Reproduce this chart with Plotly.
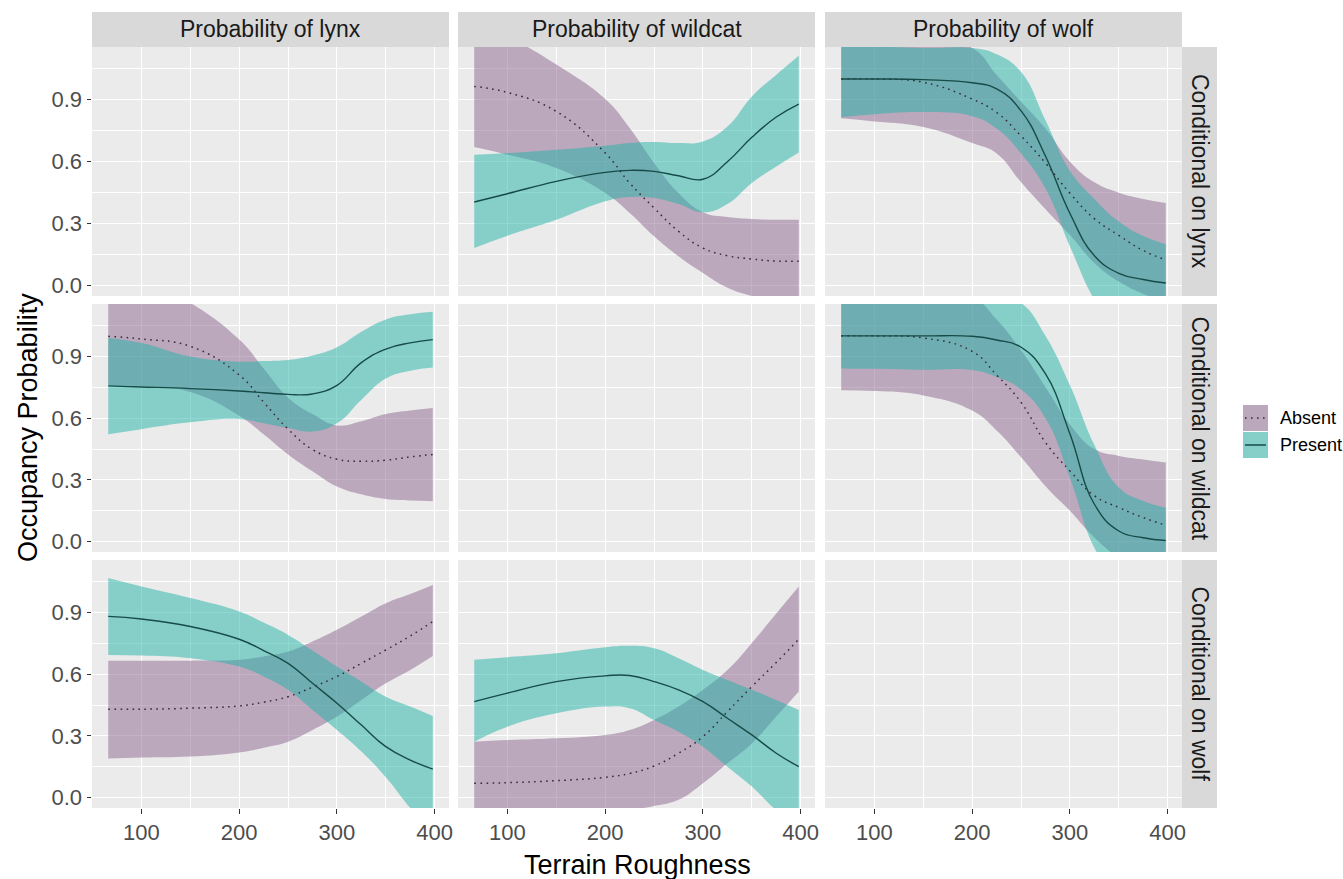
import plotly.graph_objects as go

W, H = 1343, 879
FONT = "Liberation Sans, Arial, Helvetica, sans-serif"

# ---------------- data ----------------
col_labels = ["Probability of lynx", "Probability of wildcat", "Probability of wolf"]
row_labels = ["Conditional on lynx", "Conditional on wildcat", "Conditional on wolf"]
x_ticks = [100, 200, 300, 400]
x_minor = [50, 150, 250, 350]
y_ticks = [0.0, 0.3, 0.6, 0.9]
y_minor = [0.15, 0.45, 0.75, 1.05]
legend_labels = ["Absent", "Present"]

roughness = [66, 100, 150, 200, 225, 250, 275, 300, 325, 350, 375, 398]

# wildcat, conditional on lynx
wildcat_lynx_absent = [0.964, 0.935, 0.843, 0.642, 0.497, 0.376, 0.263, 0.182, 0.145, 0.129, 0.119, 0.118]
wildcat_lynx_absent_lo = [0.671, 0.634, 0.569, 0.448, 0.352, 0.239, 0.142, 0.061, -0.01, -0.05, -0.08, -0.10]
wildcat_lynx_absent_hi = [1.30, 1.21, 1.07, 0.903, 0.763, 0.594, 0.448, 0.355, 0.332, 0.323, 0.319, 0.319]
wildcat_lynx_present = [0.405, 0.445, 0.505, 0.548, 0.558, 0.553, 0.532, 0.515, 0.600, 0.718, 0.816, 0.879]
wildcat_lynx_present_lo = [0.182, 0.242, 0.319, 0.408, 0.429, 0.424, 0.395, 0.355, 0.395, 0.497, 0.577, 0.645]
wildcat_lynx_present_hi = [0.634, 0.642, 0.658, 0.677, 0.690, 0.695, 0.690, 0.698, 0.770, 0.916, 1.021, 1.113]

# wolf, conditional on lynx
wolf_lynx_absent = [1.0, 1.0, 0.984, 0.903, 0.838, 0.724, 0.593, 0.447, 0.324, 0.243, 0.170, 0.125]
wolf_lynx_absent_lo = [0.81, 0.795, 0.768, 0.69, 0.64, 0.50, 0.37, 0.245, 0.11, 0.02, -0.04, -0.08]
wolf_lynx_absent_hi = [1.25, 1.23, 1.20, 1.15, 1.02, 0.89, 0.76, 0.60, 0.50, 0.45, 0.42, 0.40]
wolf_lynx_present = [1.0, 1.0, 0.997, 0.982, 0.952, 0.846, 0.626, 0.349, 0.145, 0.060, 0.030, 0.013]
wolf_lynx_present_lo = [0.815, 0.83, 0.84, 0.82, 0.76, 0.64, 0.47, 0.19, -0.07, -0.25, -0.35, -0.40]
wolf_lynx_present_hi = [1.17, 1.16, 1.15, 1.15, 1.12, 1.034, 0.80, 0.555, 0.42, 0.31, 0.24, 0.20]

# lynx, conditional on wildcat
lynx_wildcat_absent = [0.998, 0.985, 0.949, 0.81, 0.678, 0.547, 0.448, 0.401, 0.391, 0.396, 0.412, 0.424]
lynx_wildcat_absent_lo = [0.76, 0.755, 0.727, 0.612, 0.522, 0.424, 0.342, 0.268, 0.23, 0.207, 0.20, 0.197]
lynx_wildcat_absent_hi = [1.32, 1.27, 1.16, 0.982, 0.842, 0.70, 0.62, 0.565, 0.585, 0.62, 0.637, 0.65]
lynx_wildcat_present = [0.757, 0.752, 0.744, 0.732, 0.724, 0.716, 0.718, 0.760, 0.870, 0.936, 0.966, 0.982]
lynx_wildcat_present_lo = [0.522, 0.547, 0.58, 0.596, 0.575, 0.552, 0.535, 0.575, 0.690, 0.793, 0.831, 0.846]
lynx_wildcat_present_hi = [0.99, 0.966, 0.90, 0.875, 0.878, 0.883, 0.905, 0.945, 1.02, 1.08, 1.105, 1.117]

# wolf, conditional on wildcat
wolf_wildcat_absent = [1.0, 1.0, 0.99, 0.925, 0.81, 0.677, 0.482, 0.344, 0.223, 0.166, 0.117, 0.08]
wolf_wildcat_absent_lo = [0.736, 0.732, 0.711, 0.637, 0.54, 0.41, 0.27, 0.15, 0.02, -0.08, -0.15, -0.2]
wolf_wildcat_absent_hi = [1.25, 1.25, 1.24, 1.19, 1.08, 0.93, 0.75, 0.57, 0.45, 0.417, 0.40, 0.385]
wolf_wildcat_present = [1.0, 1.0, 1.0, 0.998, 0.98, 0.945, 0.815, 0.523, 0.182, 0.052, 0.019, 0.006]
wolf_wildcat_present_lo = [0.842, 0.84, 0.835, 0.834, 0.80, 0.74, 0.60, 0.31, -0.03, -0.2, -0.3, -0.35]
wolf_wildcat_present_hi = [1.3, 1.3, 1.3, 1.25, 1.2, 1.16, 1.0, 0.76, 0.47, 0.263, 0.198, 0.166]

# lynx, conditional on wolf
lynx_wolf_absent = [0.43, 0.43, 0.435, 0.446, 0.464, 0.491, 0.537, 0.589, 0.653, 0.718, 0.786, 0.856]
lynx_wolf_absent_lo = [0.191, 0.195, 0.2, 0.22, 0.243, 0.272, 0.329, 0.394, 0.475, 0.556, 0.621, 0.689]
lynx_wolf_absent_hi = [0.665, 0.665, 0.666, 0.67, 0.686, 0.71, 0.759, 0.816, 0.88, 0.945, 0.99, 1.034]
lynx_wolf_present = [0.881, 0.868, 0.832, 0.77, 0.715, 0.653, 0.556, 0.459, 0.353, 0.248, 0.183, 0.139]
lynx_wolf_present_lo = [0.694, 0.691, 0.678, 0.637, 0.589, 0.524, 0.426, 0.329, 0.224, 0.10, -0.05, -0.17]
lynx_wolf_present_hi = [1.067, 1.026, 0.97, 0.905, 0.851, 0.791, 0.715, 0.637, 0.564, 0.491, 0.443, 0.397]

# wildcat, conditional on wolf
wildcat_wolf_absent = [0.07, 0.073, 0.083, 0.099, 0.118, 0.154, 0.216, 0.297, 0.418, 0.54, 0.657, 0.77]
wildcat_wolf_absent_lo = [-0.15, -0.13, -0.1, -0.08, -0.06, -0.04, -0.01, 0.07, 0.167, 0.264, 0.394, 0.516]
wildcat_wolf_absent_hi = [0.272, 0.28, 0.289, 0.305, 0.329, 0.378, 0.443, 0.524, 0.62, 0.752, 0.895, 1.026]
wildcat_wolf_present = [0.467, 0.508, 0.564, 0.592, 0.594, 0.564, 0.524, 0.467, 0.386, 0.305, 0.216, 0.151]
wildcat_wolf_present_lo = [0.272, 0.345, 0.41, 0.443, 0.435, 0.378, 0.321, 0.248, 0.151, 0.054, -0.06, -0.13]
wildcat_wolf_present_hi = [0.67, 0.683, 0.702, 0.731, 0.738, 0.726, 0.678, 0.621, 0.572, 0.524, 0.475, 0.426]

# (row, col) -> series
panels = {
    (0, 1): (wildcat_lynx_absent, wildcat_lynx_absent_lo, wildcat_lynx_absent_hi,
             wildcat_lynx_present, wildcat_lynx_present_lo, wildcat_lynx_present_hi),
    (0, 2): (wolf_lynx_absent, wolf_lynx_absent_lo, wolf_lynx_absent_hi,
             wolf_lynx_present, wolf_lynx_present_lo, wolf_lynx_present_hi),
    (1, 0): (lynx_wildcat_absent, lynx_wildcat_absent_lo, lynx_wildcat_absent_hi,
             lynx_wildcat_present, lynx_wildcat_present_lo, lynx_wildcat_present_hi),
    (1, 2): (wolf_wildcat_absent, wolf_wildcat_absent_lo, wolf_wildcat_absent_hi,
             wolf_wildcat_present, wolf_wildcat_present_lo, wolf_wildcat_present_hi),
    (2, 0): (lynx_wolf_absent, lynx_wolf_absent_lo, lynx_wolf_absent_hi,
             lynx_wolf_present, lynx_wolf_present_lo, lynx_wolf_present_hi),
    (2, 1): (wildcat_wolf_absent, wildcat_wolf_absent_lo, wildcat_wolf_absent_hi,
             wildcat_wolf_present, wildcat_wolf_present_lo, wildcat_wolf_present_hi),
}

# ---------------- style ----------------
ABSENT_FILL = "rgba(139,101,141,0.5)"
PRESENT_FILL = "rgba(33,179,167,0.5)"
ABSENT_LINE = "#3a2a3c"
PRESENT_LINE = "#174b48"
DOT = "1.6px,4.4px"
SMOOTH = 1.3

COL_PX = [(92, 449), (458, 815), (825, 1182)]
ROW_PX = [(47, 296), (304, 552), (560, 808)]
X_RANGE = [49.4, 414.6]
Y_RANGE = [-0.05, 1.155]


def fx(px):
    return px / W


def fy(py):
    return 1 - py / H


fig = go.Figure()
layout = {}

for r in range(3):
    for c in range(3):
        k = r * 3 + c + 1
        xn = "xaxis" if k == 1 else f"xaxis{k}"
        yn = "yaxis" if k == 1 else f"yaxis{k}"
        xref = "x" if k == 1 else f"x{k}"
        yref = "y" if k == 1 else f"y{k}"
        layout[xn] = dict(
            domain=[fx(COL_PX[c][0]), fx(COL_PX[c][1])], range=X_RANGE, anchor=yref,
            tickmode="array", tickvals=x_ticks, ticktext=[str(v) for v in x_ticks],
            showgrid=True, gridcolor="white", gridwidth=1.4,
            minor=dict(tickmode="array", tickvals=x_minor, showgrid=True,
                       gridcolor="white", gridwidth=0.7, ticks=""),
            zeroline=False, showline=False,
            ticks="outside" if r == 2 else "", ticklen=4.5, tickwidth=1.2, tickcolor="#333333",
            showticklabels=(r == 2),
            tickfont=dict(family=FONT, size=22, color="#4D4D4D"),
            fixedrange=True,
        )
        layout[yn] = dict(
            domain=[fy(ROW_PX[r][1]), fy(ROW_PX[r][0])], range=Y_RANGE, anchor=xref,
            tickmode="array", tickvals=y_ticks, ticktext=[f"{v:.1f}" for v in y_ticks],
            showgrid=True, gridcolor="white", gridwidth=1.4,
            minor=dict(tickmode="array", tickvals=y_minor, showgrid=True,
                       gridcolor="white", gridwidth=0.7, ticks=""),
            zeroline=False, showline=False,
            ticks="outside" if c == 0 else "", ticklen=4.5, tickwidth=1.2, tickcolor="#333333",
            showticklabels=(c == 0),
            tickfont=dict(family=FONT, size=22, color="#4D4D4D"),
            fixedrange=True,
        )
        common = dict(xaxis=xref, yaxis=yref, showlegend=False, hoverinfo="skip")
        if (r, c) in panels:
            a, a_lo, a_hi, p, p_lo, p_hi = panels[(r, c)]
            fig.add_trace(go.Scatter(x=roughness, y=a_hi, mode="lines",
                                     line=dict(width=0, shape="spline", smoothing=SMOOTH), **common))
            fig.add_trace(go.Scatter(x=roughness, y=a_lo, mode="lines", fill="tonexty",
                                     fillcolor=ABSENT_FILL,
                                     line=dict(width=0, shape="spline", smoothing=SMOOTH), **common))
            fig.add_trace(go.Scatter(x=roughness, y=p_hi, mode="lines",
                                     line=dict(width=0, shape="spline", smoothing=SMOOTH), **common))
            fig.add_trace(go.Scatter(x=roughness, y=p_lo, mode="lines", fill="tonexty",
                                     fillcolor=PRESENT_FILL,
                                     line=dict(width=0, shape="spline", smoothing=SMOOTH), **common))
            fig.add_trace(go.Scatter(x=roughness, y=a, mode="lines",
                                     line=dict(width=1.5, color=ABSENT_LINE, dash=DOT,
                                               shape="spline", smoothing=SMOOTH), **common))
            fig.add_trace(go.Scatter(x=roughness, y=p, mode="lines",
                                     line=dict(width=1.4, color=PRESENT_LINE,
                                               shape="spline", smoothing=SMOOTH), **common))
        else:
            # empty diagonal panel: keep the panel (background, grid, axes) drawn
            fig.add_trace(go.Scatter(x=[None], y=[None], mode="markers", **common))

shapes = []
annotations = []

# top strips
for c, lab in enumerate(col_labels):
    x0, x1 = COL_PX[c]
    shapes.append(dict(type="rect", xref="paper", yref="paper",
                       x0=fx(x0), x1=fx(x1), y0=fy(47), y1=fy(12),
                       fillcolor="#D9D9D9", line=dict(width=0), layer="below"))
    annotations.append(dict(xref="paper", yref="paper", x=fx((x0 + x1) / 2), y=fy(29.5),
                            text=lab, showarrow=False, xanchor="center", yanchor="middle",
                            font=dict(family=FONT, size=23, color="#1A1A1A")))

# right strips
for r, lab in enumerate(row_labels):
    y0, y1 = ROW_PX[r]
    shapes.append(dict(type="rect", xref="paper", yref="paper",
                       x0=fx(1182), x1=fx(1217), y0=fy(y1), y1=fy(y0),
                       fillcolor="#D9D9D9", line=dict(width=0), layer="below"))
    annotations.append(dict(xref="paper", yref="paper", x=fx(1199.5), y=fy((y0 + y1) / 2),
                            text=lab, showarrow=False, textangle=90,
                            xanchor="center", yanchor="middle",
                            font=dict(family=FONT, size=23, color="#1A1A1A")))

# axis titles
annotations.append(dict(xref="paper", yref="paper", x=fx(637), y=fy(865),
                        text="Terrain Roughness", showarrow=False,
                        xanchor="center", yanchor="middle",
                        font=dict(family=FONT, size=27, color="black")))
annotations.append(dict(xref="paper", yref="paper", x=fx(28), y=fy(428),
                        text="Occupancy Probability", showarrow=False, textangle=-90,
                        xanchor="center", yanchor="middle",
                        font=dict(family=FONT, size=27, color="black")))

# legend (manual keys)
key_specs = [
    (legend_labels[0], 405, 431, ABSENT_FILL, ABSENT_LINE, DOT),
    (legend_labels[1], 432, 458, PRESENT_FILL, PRESENT_LINE, "solid"),
]
for lab, ky0, ky1, fill, lcol, dash in key_specs:
    shapes.append(dict(type="rect", xref="paper", yref="paper",
                       x0=fx(1243), x1=fx(1268), y0=fy(ky1), y1=fy(ky0),
                       fillcolor="#EBEBEB", line=dict(width=0)))
    shapes.append(dict(type="rect", xref="paper", yref="paper",
                       x0=fx(1243), x1=fx(1268), y0=fy(ky1), y1=fy(ky0),
                       fillcolor=fill, line=dict(width=0)))
    ym = (ky0 + ky1) / 2
    shapes.append(dict(type="line", xref="paper", yref="paper",
                       x0=fx(1245), x1=fx(1266), y0=fy(ym), y1=fy(ym),
                       line=dict(color=lcol, width=1.5, dash=dash)))
    annotations.append(dict(xref="paper", yref="paper", x=fx(1278), y=fy(ym),
                            text=lab, showarrow=False, xanchor="left", yanchor="middle",
                            font=dict(family=FONT, size=18, color="black")))

fig.update_layout(
    width=W, height=H, autosize=False,
    margin=dict(l=0, r=0, t=0, b=0, autoexpand=False),
    paper_bgcolor="white", plot_bgcolor="#EBEBEB",
    showlegend=False,
    shapes=shapes, annotations=annotations,
    font=dict(family=FONT),
    **layout,
)

fig.write_html("out.html")
